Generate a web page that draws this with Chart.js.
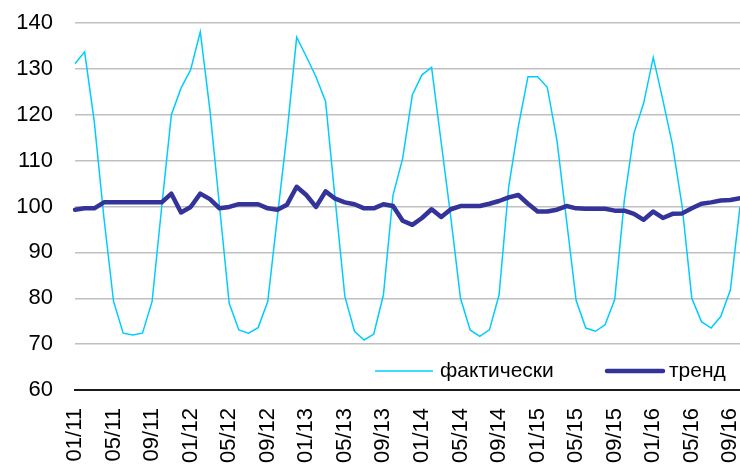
<!DOCTYPE html>
<html>
<head>
<meta charset="utf-8">
<script src="https://cdn.jsdelivr.net/npm/chart.js@4/dist/chart.umd.min.js"></script>
<style>
html,body{margin:0;padding:0;background:#fff;}
#wrap{width:740px;height:465px;position:relative;}
</style>
</head>
<body>
<div id="wrap"><canvas id="c" width="740" height="465"></canvas></div>
<script>
const years = ['11','12','13','14','15','16'];
const months = ['01','02','03','04','05','06','07','08','09','10','11','12'];
const categories = [];
years.forEach(y => months.forEach(m => categories.push(m + '/' + y)));
categories.length = 70; // 01/11 .. 10/16

const actual = [
  131.1,133.7,118.5,97.6,79.3,72.4,72.0,72.4,79.3,100.0,120.0,125.8,
  129.8,138.1,121.0,100.0,78.9,73.1,72.4,73.6,79.3,97.8,116.0,136.9,
  132.7,128.3,122.9,101.4,80.4,72.8,70.9,72.2,80.7,102.5,110.5,124.3,
  128.7,130.3,113.9,97.5,80.0,73.1,71.7,73.1,80.7,104.3,117.4,128.3,
  128.3,126.0,114.5,97.0,79.5,73.5,72.8,74.2,79.7,101.4,116.0,122.5,
  132.5,123.2,113.4,100.0,80.0,74.9,73.5,76.0,81.8,100.0
];
const trend = [
  99.3,99.6,99.6,100.9,100.9,100.9,100.9,100.9,100.9,100.9,102.8,98.7,
  99.9,102.8,101.6,99.6,99.9,100.5,100.5,100.5,99.6,99.3,100.4,104.3,
  102.5,99.9,103.3,101.7,100.9,100.5,99.6,99.6,100.5,100.1,96.9,96.0,
  97.5,99.4,97.7,99.4,100.1,100.1,100.1,100.6,101.2,102.0,102.5,100.6,
  98.9,98.9,99.3,100.1,99.6,99.5,99.5,99.5,99.1,99.1,98.4,97.1,
  98.9,97.5,98.4,98.5,99.6,100.6,100.9,101.3,101.4,101.8
];
const yTicks = [60,70,80,90,100,110,120,130,140];
const seriesNames = ['фактически','тренд'];
const colors = ['#00CCFF','#333399'];

const FONT = '"Liberation Sans", Arial, sans-serif';

const legendPlugin = {
  id: 'inlegend',
  afterDraw(chart) {
    const ctx = chart.ctx;
    ctx.save();
    ctx.font = '21px ' + FONT;
    ctx.fillStyle = '#000';
    ctx.textBaseline = 'middle';
    const y = 371;
    ctx.strokeStyle = colors[0]; ctx.lineWidth = 1.5; ctx.lineCap = 'butt';
    ctx.beginPath(); ctx.moveTo(375, y); ctx.lineTo(433, y); ctx.stroke();
    ctx.fillText(seriesNames[0], 440, y);
    ctx.strokeStyle = colors[1]; ctx.lineWidth = 4.5; ctx.lineCap = 'round';
    ctx.beginPath(); ctx.moveTo(607, y); ctx.lineTo(663, y); ctx.stroke();
    ctx.fillText(seriesNames[1], 669, y);
    ctx.restore();
  }
};

new Chart(document.getElementById('c'), {
  type: 'line',
  data: {
    labels: categories,
    datasets: [
      { label: seriesNames[0], data: actual, borderColor: colors[0], borderWidth: 1.5,
        pointRadius: 0, tension: 0, fill: false, order: 2 },
      { label: seriesNames[1], data: trend, borderColor: colors[1], borderWidth: 4.5,
        pointRadius: 0, tension: 0, fill: false, order: 1, borderJoinStyle: 'round', borderCapStyle: 'round' }
    ]
  },
  options: {
    responsive: false,
    animation: false,
    devicePixelRatio: 1,
    layout: { padding: { top: 23, right: 0, left: 0, bottom: 0 } },
    plugins: { legend: { display: false }, tooltip: { enabled: false } },
    scales: {
      x: {
        offset: false,
        grid: { display: false, drawTicks: false },
        border: { display: true, color: '#1a1a1a', width: 2 },
        ticks: {
          autoSkip: false, maxRotation: 90, minRotation: 90, padding: 18,
          color: '#000', font: { family: FONT, size: 22 },
          callback: function(v, i) { return i % 4 === 0 ? categories[i] : ''; }
        },
        afterFit(s) { s.height = 75; s.paddingLeft = 0; s.paddingRight = 0; }
      },
      y: {
        min: 60, max: 140,
        afterBuildTicks(s) { s.ticks = yTicks.map(v => ({ value: v })); },
        grid: { color: '#C0C0C0', lineWidth: 1.5, drawTicks: false },
        border: { display: false },
        ticks: { padding: 22, color: '#000', font: { family: FONT, size: 22 } },
        afterFit(s) { s.width = 75; s.paddingTop = 0; s.paddingBottom = 0; }
      }
    }
  },
  plugins: [legendPlugin]
});
</script>
</body>
</html>
